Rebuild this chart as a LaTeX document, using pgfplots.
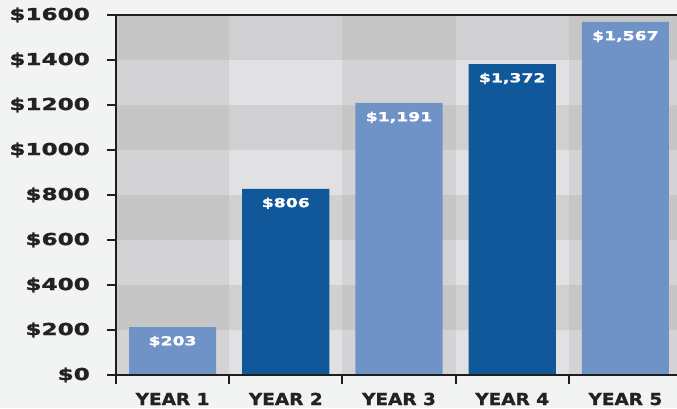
\documentclass[border=0pt]{standalone}
\usepackage{pgfplots}
\pgfplotsset{compat=1.18}
\usepackage{pgfplotstable}
\usepackage{fontspec}
\setmainfont{DejaVu Sans}
\newfontfamily\wideb[FakeStretch=1.4, FakeBold=1.6]{DejaVu Sans Bold}
\newfontfamily\xlabb[FakeStretch=1.12, FakeBold=1.2]{DejaVu Sans Bold}
\definecolor{pagebg}{HTML}{F2F3F3}
\definecolor{cDD}{HTML}{C6C6C6}
\definecolor{cDL}{HTML}{D0D0D2}
\definecolor{cLD}{HTML}{D3D3D5}
\definecolor{cLL}{HTML}{E1E1E3}
\definecolor{lightb}{HTML}{6F93C6}
\definecolor{darkb}{HTML}{10589A}
\definecolor{axisc}{HTML}{1E1E1E}
\definecolor{tickc}{HTML}{222222}

\pgfplotstableread{
x y lab
0 213 203
2 1209 1191
4 1569 1567
}\lighttab
\pgfplotstableread{
x y lab
1 827 806
3 1382 1372
}\darktab

\begin{document}
\begin{tikzpicture}
\fill[pagebg] (-116pt,-33pt) rectangle (561pt,375pt);
\begin{axis}[
  at={(0pt,0pt)}, anchor=south west, scale only axis,
  width=566pt, height=360pt,
  xmin=-0.5, xmax=4.5, ymin=0, ymax=1600,
  axis on top,
  axis line style={line width=2.6pt, color=axisc},
  tick align=outside, major tick length=9pt,
  tick style={line width=2pt, color=axisc},
  xtick={-0.5,0.5,1.5,2.5,3.5,4.5}, xticklabels={,,,,,},
  extra x ticks={0,1,2,3,4},
  extra x tick labels={YEAR 1,YEAR 2,YEAR 3,YEAR 4,YEAR 5},
  extra x tick style={major tick length=0pt},
  xtick pos=bottom, ytick pos=left,
  ytick={0,200,...,1600},
  yticklabels={\$0,\$200,\$400,\$600,\$800,\$1000,\$1200,\$1400,\$1600},
  yticklabel style={font=\wideb\fontsize{16.5}{18}\selectfont, text=tickc, anchor=east, inner sep=0pt, xshift=-17pt},
  xticklabel style={font=\xlabb\fontsize{16.5}{18}\selectfont, text=tickc, anchor=base, inner sep=0pt, text depth=0pt, yshift=-30pt},
  /pgf/number format/assume math mode=true,
  ybar, bar width=0.77, bar shift=0pt,
  point meta=explicit,
  nodes near coords={\$\pgfmathprintnumber[1000 sep={,}]{\pgfplotspointmeta}},
  nodes near coords style={font=\wideb\fontsize{12.3}{14}\selectfont, text=white, anchor=north, inner sep=0pt, text height=9pt, text depth=0pt, yshift=-9pt},
]
\fill[cLL] (axis cs:-0.5,0) rectangle (axis cs:4.5,1600);
\fill[cDL] (axis cs:-0.5,200) rectangle (axis cs:4.5,400);
\fill[cDL] (axis cs:-0.5,600) rectangle (axis cs:4.5,800);
\fill[cDL] (axis cs:-0.5,1000) rectangle (axis cs:4.5,1200);
\fill[cDL] (axis cs:-0.5,1400) rectangle (axis cs:4.5,1600);
\fill[cLD] (axis cs:-0.5,0) rectangle (axis cs:0.5,1600);
\fill[cLD] (axis cs:1.5,0) rectangle (axis cs:2.5,1600);
\fill[cLD] (axis cs:3.5,0) rectangle (axis cs:4.5,1600);
\fill[cDD] (axis cs:-0.5,200) rectangle (axis cs:0.5,400);
\fill[cDD] (axis cs:-0.5,600) rectangle (axis cs:0.5,800);
\fill[cDD] (axis cs:-0.5,1000) rectangle (axis cs:0.5,1200);
\fill[cDD] (axis cs:-0.5,1400) rectangle (axis cs:0.5,1600);
\fill[cDD] (axis cs:1.5,200) rectangle (axis cs:2.5,400);
\fill[cDD] (axis cs:1.5,600) rectangle (axis cs:2.5,800);
\fill[cDD] (axis cs:1.5,1000) rectangle (axis cs:2.5,1200);
\fill[cDD] (axis cs:1.5,1400) rectangle (axis cs:2.5,1600);
\fill[cDD] (axis cs:3.5,200) rectangle (axis cs:4.5,400);
\fill[cDD] (axis cs:3.5,600) rectangle (axis cs:4.5,800);
\fill[cDD] (axis cs:3.5,1000) rectangle (axis cs:4.5,1200);
\fill[cDD] (axis cs:3.5,1400) rectangle (axis cs:4.5,1600);
\addplot[fill=lightb, draw=none] table[x=x, y=y, meta=lab] {\lighttab};
\addplot[fill=darkb, draw=none] table[x=x, y=y, meta=lab] {\darktab};
\end{axis}
\pgfresetboundingbox
\path[use as bounding box] (-116pt,-33pt) rectangle (561pt,375pt);
\end{tikzpicture}
\end{document}
